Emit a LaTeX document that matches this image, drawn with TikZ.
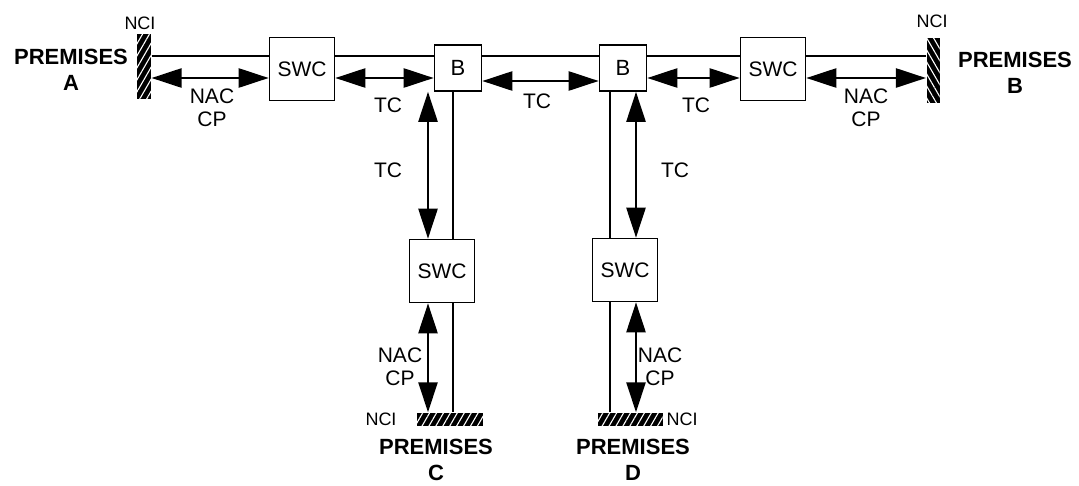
\documentclass[tikz,border=0pt]{standalone}
\usepackage{fontspec}
\setmainfont{Liberation Sans}
\usetikzlibrary{arrows.meta,patterns.meta}

\tikzset{
    swcbox/.style={draw, fill=white, line width=1.6pt, minimum width=65pt, minimum height=63pt, inner sep=0pt, font=\fontsize{21}{21}\selectfont},
    bbox/.style={draw, fill=white, line width=1.6pt, minimum width=47pt, minimum height=46pt, inner sep=0pt, font=\fontsize{22}{22}\selectfont},
    ncibar/.style={preaction={fill=black}, pattern={Lines[angle=#1, distance=6pt, line width=1.1pt]}, pattern color=white, inner sep=0pt},
    link/.style={line width=1.6pt},
    dual/.style={line width=2.4pt, {Triangle[length=30pt, width=19pt]}-{Triangle[length=30pt, width=19pt]}},
    lbl/.style={font=\fontsize{21}{23}\selectfont, align=center, inner sep=0pt},
    ncilbl/.style={font=\fontsize{18}{18}\selectfont, inner sep=0pt},
    prem/.style={font=\bfseries\fontsize{22}{26}\selectfont, align=center, inner sep=0pt}
}

\begin{document}
\begin{tikzpicture}[x=1pt, y=-1pt]
        \useasboundingbox (0,0) rectangle (1079,485);
        % boxes
        \node[swcbox] (swca) at (302,69) {SWC};
        \node[bbox] (ba) at (458,68) {B};
        \node[bbox] (bb) at (623,68) {B};
        \node[swcbox] (swcb) at (773,69) {SWC};
        \node[swcbox] (swcc) at (442,271) {SWC};
        \node[swcbox] (swcd) at (625,270) {SWC};
        % network interfaces
        \node[ncibar=60, minimum width=14pt, minimum height=65pt] (ncia) at (144,66) {};
        \node[ncibar=120, minimum width=13pt, minimum height=65pt] (ncib) at (933,70) {};
        \node[ncibar=60, minimum width=66pt, minimum height=13pt] (ncic) at (450,419) {};
        \node[ncibar=60, minimum width=65pt, minimum height=13pt] (ncid) at (630,419) {};
        % line rows and columns
        \coordinate (trunk) at (0,56);
        \coordinate (row) at (0,78);
        \coordinate (rowmid) at (0,81);
        \coordinate (legc) at (453,0);
        \coordinate (legd) at (610,0);
        \coordinate (arrc) at (428,0);
        \coordinate (arrd) at (636,0);
        % physical path
        \foreach \a/\b in {ncia/swca, swca/ba, ba/bb, bb/swcb, swcb/ncib}
            \draw[link] (\a.east |- trunk) -- (\b.west |- trunk);
        \draw[link] (legc |- ba.south) -- (legc |- swcc.north);
        \draw[link] (legc |- swcc.south) -- (legc |- ncic.north);
        \draw[link] (legd |- bb.south) -- (legd |- swcd.north);
        \draw[link] (legd |- swcd.south) -- (legd |- ncid.north);
        % control paths
        \draw[dual] (ncia.east |- row) -- (swca.west |- row);
        \draw[dual] (swca.east |- row) -- (ba.west |- row);
        \draw[dual] (ba.east |- rowmid) -- (bb.west |- rowmid);
        \draw[dual] (bb.east |- row) -- (swcb.west |- row);
        \draw[dual] (swcb.east |- row) -- (ncib.west |- row);
        \draw[dual] (arrc |- ba.south) -- (arrc |- swcc.north);
        \draw[dual] (arrc |- swcc.south) -- (arrc |- ncic.north);
        \draw[dual] (arrd |- bb.south) -- (arrd |- swcd.north);
        \draw[dual] (arrd |- swcd.south) -- (arrd |- ncid.north);
        % labels
        \node[prem] (prema) at (71,70) {PREMISES\\A};
        \node[prem] (premb) at (1015,73) {PREMISES\\B};
        \node[prem] (premc) at (436,460) {PREMISES\\C};
        \node[prem] (premd) at (633,460) {PREMISES\\D};
        \node[ncilbl] (ncilbla) at (140,23) {NCI};
        \node[ncilbl] (ncilblb) at (932,21) {NCI};
        \node[ncilbl] (ncilblc) at (381,419) {NCI};
        \node[ncilbl] (ncilbld) at (682,419) {NCI};
        \node[lbl] (nacpa) at (212,108) {NAC\\CP};
        \node[lbl] (nacpb) at (866,108) {NAC\\CP};
        \node[lbl] (nacpc) at (400,367) {NAC\\CP};
        \node[lbl] (nacpd) at (660,367) {NAC\\CP};
        \node[lbl] (tca) at (388,105) {TC};
        \node[lbl] (tcm) at (537,101) {TC};
        \node[lbl] (tcb) at (696,105) {TC};
        \node[lbl] (tcc) at (388,170) {TC};
        \node[lbl] (tcd) at (675,170) {TC};
\end{tikzpicture}
\end{document}
